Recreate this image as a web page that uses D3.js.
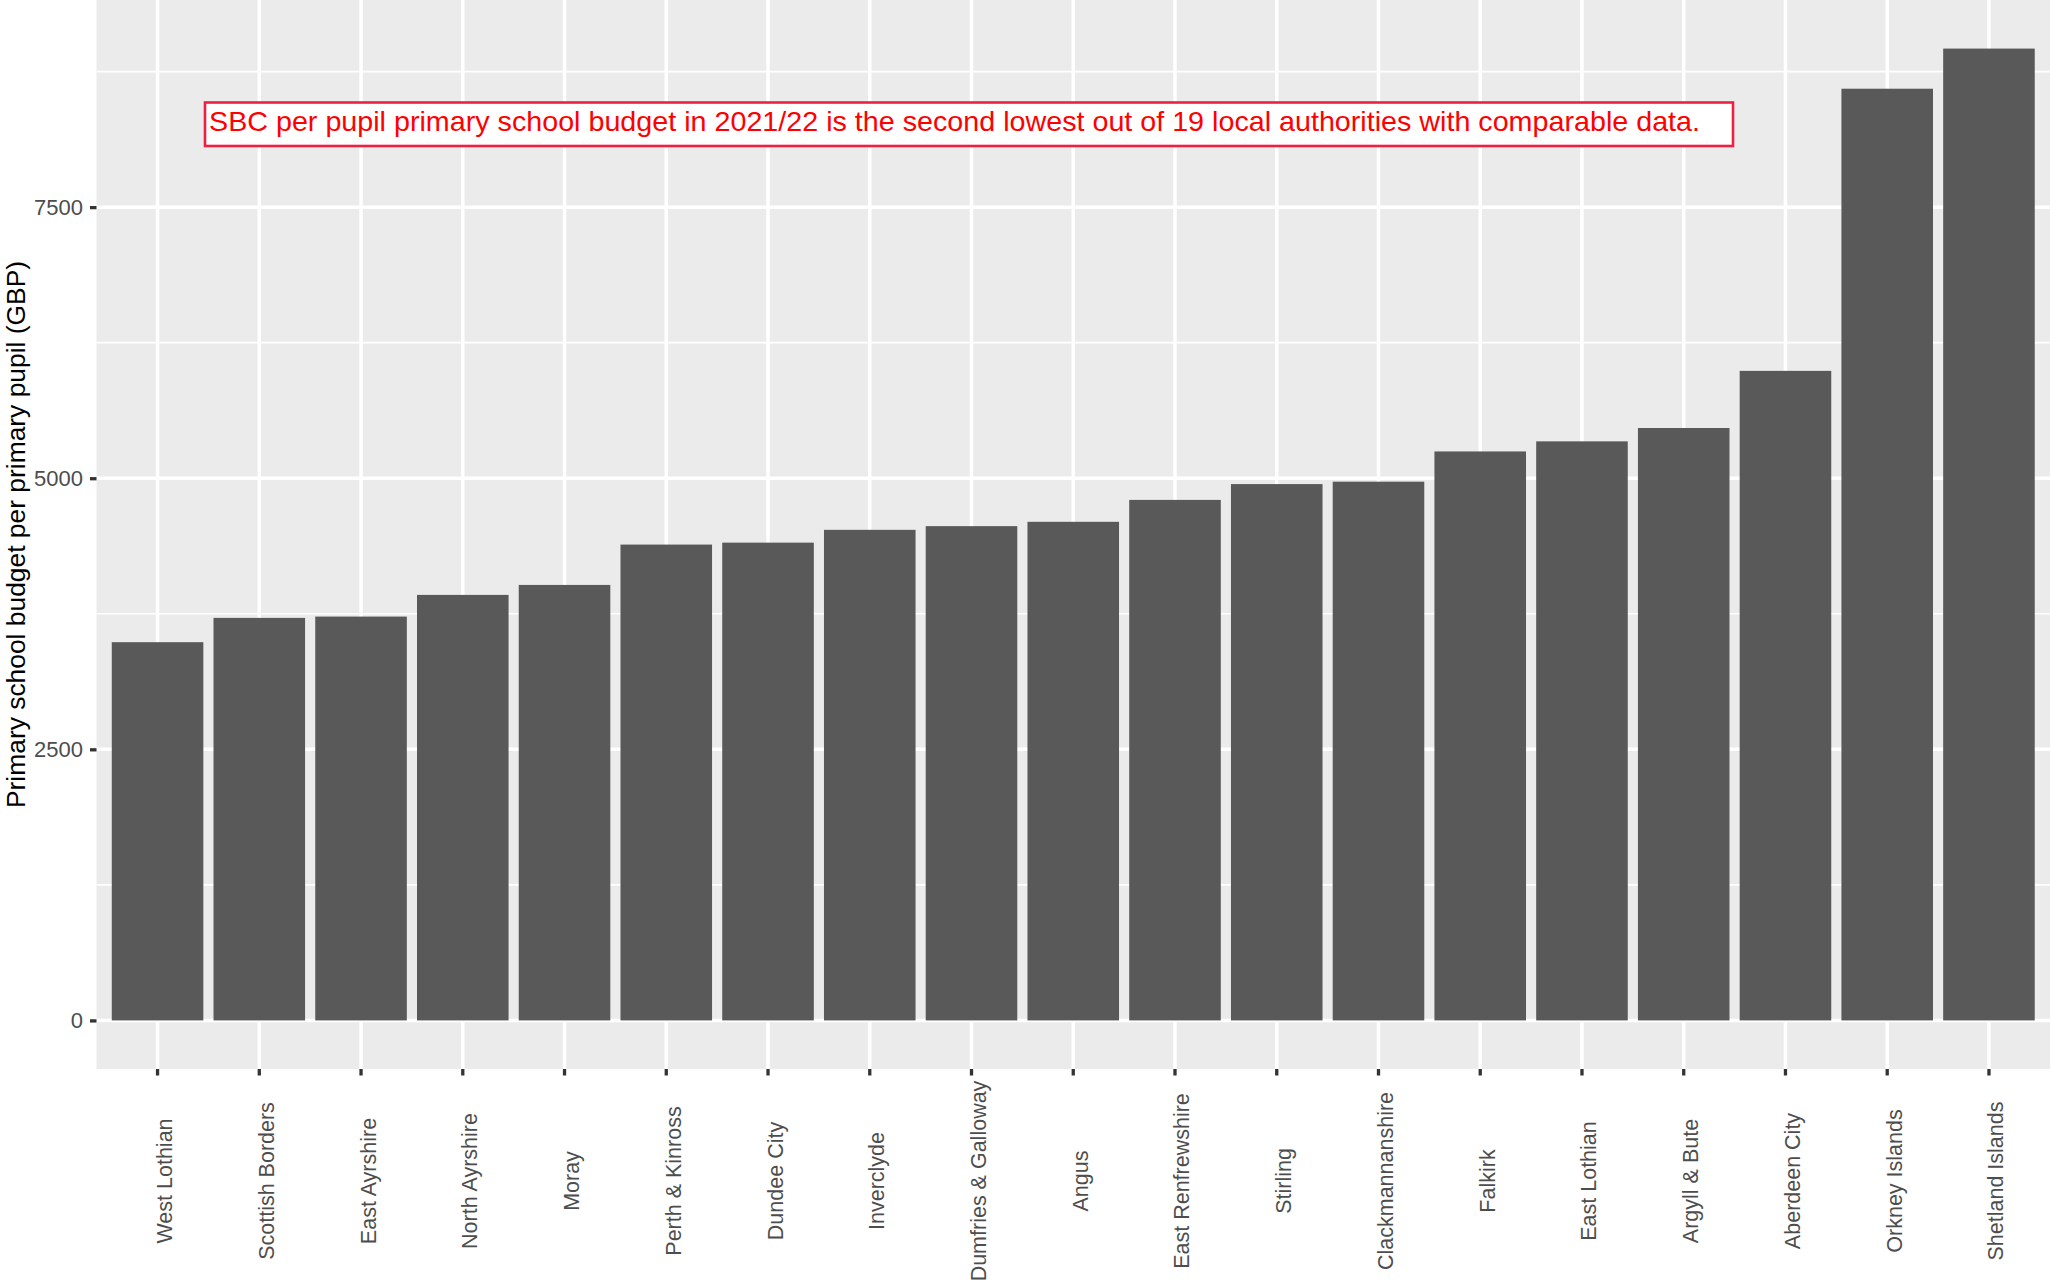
<!DOCTYPE html>
<html lang="en">
<head>
    <meta charset="UTF-8">
    <title>Primary school budget per pupil</title>
    <style>
        body { margin: 0; background: #fff; }
        svg { display: block; font-family: "Liberation Sans", Arial, sans-serif; }
    </style>
</head>
<body>

<svg height="1283" width="2051"></svg>

<script src="https://d3js.org/d3.v7.min.js"></script>

<script>

    // values, lowest to highest
    var authorities = ["West Lothian", "Scottish Borders", "East Ayrshire", "North Ayrshire", "Moray",
        "Perth & Kinross", "Dundee City", "Inverclyde", "Dumfries & Galloway", "Angus",
        "East Renfrewshire", "Stirling", "Clackmannanshire", "Falkirk", "East Lothian",
        "Argyll & Bute", "Aberdeen City", "Orkney Islands", "Shetland Islands"];
    var budget = [3488, 3712, 3724, 3924, 4016, 4388, 4406, 4524, 4558, 4598,
        4800, 4946, 4968, 5247, 5340, 5463, 5990, 8592, 8962];
    var yTicks = [0, 2500, 5000, 7500];
    var yMinorTicks = [1250, 3750, 6250, 8750];

    var yTitle = "Primary school budget per primary pupil (GBP)";
    var note = "SBC per pupil primary school budget in 2021/22 is the second lowest out of 19 local authorities with comparable data.";

    var svg = d3.select("svg");
    var panel = {left: 96.5, right: 2050, top: 0, bottom: 1069};

    var data = authorities.map(function(a, i) { return {name: a, value: budget[i]}; });

    var x = d3.scaleBand()
        .domain(authorities)
        .range([panel.left, panel.right])
        .paddingInner(0.1)
        .paddingOuter(0.15);

    // ggplot style 5% expansion on both ends
    var maxVal = d3.max(budget);
    var y = d3.scaleLinear()
        .domain([-0.05 * maxVal, 1.05 * maxVal])
        .range([panel.bottom, panel.top]);

    svg.append("rect")
        .attr("x", panel.left)
        .attr("y", panel.top)
        .attr("width", panel.right - panel.left)
        .attr("height", panel.bottom - panel.top)
        .attr("fill", "#ebebeb");

    var grid = svg.append("g");

    grid.selectAll(".minor")
        .data(yMinorTicks)
        .enter()
        .append("line")
        .attr("x1", panel.left).attr("x2", panel.right)
        .attr("y1", function(d) { return y(d); })
        .attr("y2", function(d) { return y(d); })
        .attr("stroke", "#fff")
        .attr("stroke-width", 1.7);

    grid.selectAll(".major")
        .data(yTicks)
        .enter()
        .append("line")
        .attr("x1", panel.left).attr("x2", panel.right)
        .attr("y1", function(d) { return y(d); })
        .attr("y2", function(d) { return y(d); })
        .attr("stroke", "#fff")
        .attr("stroke-width", 3.5);

    grid.selectAll(".vmajor")
        .data(authorities)
        .enter()
        .append("line")
        .attr("x1", function(d) { return x(d) + x.bandwidth() / 2; })
        .attr("x2", function(d) { return x(d) + x.bandwidth() / 2; })
        .attr("y1", panel.top).attr("y2", panel.bottom)
        .attr("stroke", "#fff")
        .attr("stroke-width", 3.5);

    svg.selectAll(".bar")
        .data(data)
        .enter()
        .append("rect")
        .attr("x", function(d) { return x(d.name); })
        .attr("width", x.bandwidth())
        .attr("y", function(d) { return y(d.value); })
        .attr("height", function(d) { return y(0) - y(d.value); })
        .attr("fill", "#595959");

    // y axis
    var yAxis = svg.append("g")
        .attr("transform", "translate(" + panel.left + ",0)")
        .call(d3.axisLeft(y).tickValues(yTicks).tickSize(6.5).tickPadding(7).tickFormat(d3.format("d")));
    yAxis.select(".domain").remove();
    yAxis.selectAll(".tick line").attr("stroke", "#333").attr("stroke-width", 3.3);
    yAxis.selectAll(".tick text")
        .attr("fill", "#4d4d4d")
        .style("font-size", "22px")
        .style("font-family", "'Liberation Sans', Arial, sans-serif");

    // x axis
    var xAxis = svg.append("g")
        .attr("transform", "translate(0," + panel.bottom + ")")
        .call(d3.axisBottom(x).tickSize(6.5).tickFormat(""));
    xAxis.select(".domain").remove();
    xAxis.selectAll(".tick line").attr("stroke", "#333").attr("stroke-width", 3.3);

    svg.selectAll(".xlabel")
        .data(authorities)
        .enter()
        .append("text")
        .attr("transform", function(d) {
            return "translate(" + (x(d) + x.bandwidth() / 2 + 14.5) + ",1181) rotate(-90)";
        })
        .attr("text-anchor", "middle")
        .attr("fill", "#4d4d4d")
        .style("font-size", "21.5px")
        .text(function(d) { return d; });

    svg.append("text")
        .attr("transform", "translate(25," + ((panel.top + panel.bottom) / 2) + ") rotate(-90)")
        .attr("text-anchor", "middle")
        .attr("fill", "#000")
        .style("font-size", "26.4px")
        .text(yTitle);

    // annotation label
    svg.append("rect")
        .attr("x", 205)
        .attr("y", 102.5)
        .attr("width", 1528)
        .attr("height", 43.5)
        .attr("fill", "#fff")
        .attr("stroke", "#ee2040")
        .attr("stroke-width", 2.6);

    svg.append("text")
        .attr("x", 209)
        .attr("y", 130.5)
        .attr("fill", "#ff0000")
        .attr("textLength", 1491)
        .attr("lengthAdjust", "spacingAndGlyphs")
        .style("font-size", "28px")
        .text(note);

</script>
</body>
</html>
